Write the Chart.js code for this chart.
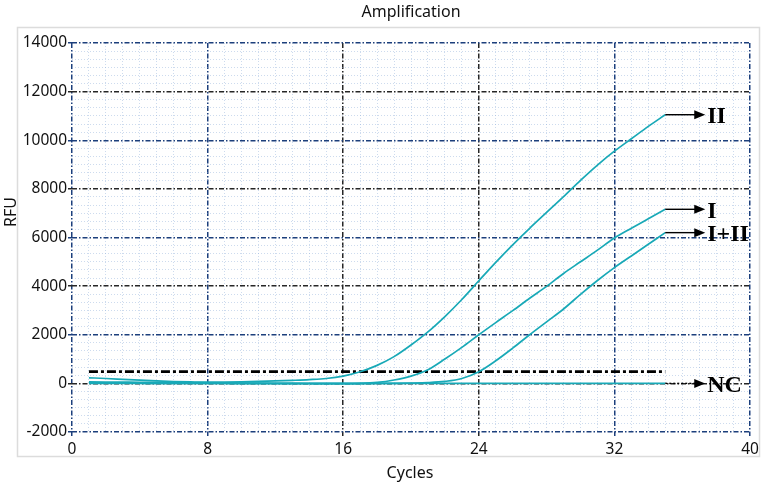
<!DOCTYPE html>
<html>
<head>
<meta charset="utf-8">
<script src="https://cdn.jsdelivr.net/npm/chart.js@4.4.1/dist/chart.umd.min.js"></script>
<style>
  html, body { margin:0; padding:0; background:#fff; }
  #wrap { width:765px; height:486px; position:relative; }
</style>
</head>
<body>
<div id="wrap"><canvas id="amp"></canvas></div>
<script>
// amplification plot - RFU per cycle for each sample
// values, threshold is the black dash-dot line

const cycles = [1,2,3,4,5,6,7,8,9,10,11,12,13,14,15,16,17,18,19,20,21,22,23,24,25,26,27,28,29,30,31,32,33,34,35];
const rfuII  = [230,200,165,130,100,75,60,50,55,65,80,100,125,155,200,300,480,740,1100,1580,2120,2750,3450,4220,4980,5700,6380,7030,7680,8350,8980,9550,10060,10570,11050];
const rfuI   = [60,55,50,45,40,35,30,25,20,15,10,5,0,-5,-10,-10,0,40,140,300,560,1000,1480,2000,2500,2990,3500,3990,4520,5000,5480,5980,6380,6770,7160];
const rfuI_II= [20,15,10,5,0,0,0,-5,-5,-10,-10,-10,-10,-10,-10,-10,-10,-5,0,10,30,80,200,480,930,1450,2000,2530,3060,3660,4230,4760,5240,5720,6200];
const rfuNC  = [0,0,0,0,0,0,0,0,0,0,0,0,0,0,0,0,0,0,0,0,0,0,0,0,0,0,0,0,0,0,0,0,0,0,0];
const thresholdCycles = [1, 35];
const thresholdRFU = [480, 480];

const xTickLabels = [0, 8, 16, 24, 32, 40];
const yTickLabels = [-2000, 0, 2000, 4000, 6000, 8000, 10000, 12000, 14000];

const teal = '#18a9b7';
const navy = '#1c3f7c';
const black = '#262626';
const faint = 'rgba(140,172,215,0.55)';
const X_SUB = 8;   // faint line every cycle
const Y_SUB = 6;

function pts(xs, ys){ return xs.map((c, i) => ({x: c, y: ys[i]})); }

function subTicks(majors, sub){
    let t = [];
    for (let i = 0; i < majors.length - 1; i++) {
        for (let k = 0; k < sub; k++) {
            t.push({value: majors[i] + (majors[i+1] - majors[i]) * k / sub});
        }
    }
    t.push({value: majors[majors.length - 1]});
    return t;
}

function xMajorColor(i){
    // 16 and 24 are black, the rest navy
    let v = xTickLabels[i];
    return (v === 16 || v === 24) ? black : navy;
}

function curve(label, ys){
    return {
        label: label,
        tag: true,
        data: pts(cycles, ys),
        borderColor: teal,
        borderWidth: 1.7,
        pointRadius: 0,
        cubicInterpolationMode: 'monotone',
        fill: false
    };
}

const arrows = {
    id: 'arrows',
    afterDatasetsDraw(chart){
        const ctx = chart.ctx;
        const x = chart.scales.x, y = chart.scales.y;
        chart.data.datasets.forEach(ds => {
            if (!ds.tag) return;
            const last = ds.data[ds.data.length - 1];
            const x0 = x.getPixelForValue(last.x);
            const y0 = y.getPixelForValue(last.y);
            const x1 = x0 + 40;
            ctx.save();
            ctx.strokeStyle = '#000';
            ctx.fillStyle = '#000';
            ctx.lineWidth = 1.4;
            if (ds.label === 'NC') ctx.setLineDash([2, 2]);
            ctx.beginPath();
            ctx.moveTo(x0, y0);
            ctx.lineTo(x1 - 10, y0);
            ctx.stroke();
            ctx.setLineDash([]);
            ctx.beginPath();
            ctx.moveTo(x1, y0);
            ctx.lineTo(x1 - 11, y0 - 4.5);
            ctx.lineTo(x1 - 11, y0 + 4.5);
            ctx.closePath();
            ctx.fill();
            ctx.font = 'bold 24px "Liberation Serif"';
            ctx.textAlign = 'left';
            ctx.textBaseline = 'middle';
            ctx.fillText(ds.label, x1 + 2, y0 + 2);
            ctx.restore();
        });
    }
};

const texts = {
    id: 'texts',
    beforeDraw(chart){
        const ctx = chart.ctx;
        ctx.save();
        ctx.strokeStyle = '#dcdcdc';
        ctx.lineWidth = 1.5;
        ctx.strokeRect(17.5, 27.5, 742, 429);
        ctx.restore();
    },
    afterDraw(chart){
        const ctx = chart.ctx;
        const a = chart.chartArea;
        ctx.save();
        ctx.fillStyle = '#111';
        ctx.font = '16px "Noto Sans"';
        ctx.textAlign = 'center';
        ctx.textBaseline = 'middle';
        ctx.fillText('Amplification', (a.left + a.right) / 2, 12);
        ctx.fillText('Cycles', (a.left + a.right) / 2 - 1, 473);
        ctx.translate(11, 212);
        ctx.rotate(-Math.PI / 2);
        ctx.fillText('RFU', 0, 0);
        ctx.restore();
    }
};

let amp = new Chart('amp', {
    type: 'line',
    data: {
        datasets: [
            curve('II', rfuII),
            curve('I', rfuI),
            curve('I+II', rfuI_II),
            curve('NC', rfuNC),
            {
                label: 'threshold',
                data: pts(thresholdCycles, thresholdRFU),
                borderColor: '#000',
                borderWidth: 2.8,
                borderDash: [9, 3, 3, 3],
                pointRadius: 0,
                fill: false
            }
        ]
    },
    plugins: [arrows, texts],
    options: {
        responsive: true,
        maintainAspectRatio: false,
        animation: false,
        layout: { padding: { top: 43, right: 15, left: 0, bottom: 0 } },
        scales: {
            x: {
                type: 'linear',
                min: 0,
                max: 40,
                afterBuildTicks: s => { s.ticks = subTicks(xTickLabels, X_SUB); },
                afterFit: s => { s.height = 54; },
                ticks: {
                    autoSkip: false,
                    maxRotation: 0,
                    padding: 4,
                    color: '#111',
                    font: { family: 'Noto Sans', size: 15.5 },
                    callback: (v, i) => i % X_SUB === 0 ? String(xTickLabels[i / X_SUB]) : ''
                },
                grid: {
                    color: c => c.index % X_SUB === 0 ? xMajorColor(c.index / X_SUB) : faint,
                    lineWidth: c => c.index % X_SUB === 0 ? 1.5 : 0.8,
                    tickColor: c => c.index % X_SUB === 0 ? xMajorColor(c.index / X_SUB) : 'transparent',
                    tickLength: 4
                },
                border: {
                    display: false,
                    dash: c => c.index % X_SUB === 0 ? [5, 2, 1.5, 2] : [1, 2]
                }
            },
            y: {
                min: -2000,
                max: 14000,
                afterBuildTicks: s => { s.ticks = subTicks(yTickLabels, Y_SUB); },
                afterFit: s => { s.width = 72; },
                ticks: {
                    autoSkip: false,
                    padding: 1,
                    color: '#111',
                    font: { family: 'Noto Sans', size: 15.5 },
                    callback: (v, i) => i % Y_SUB === 0 ? String(yTickLabels[i / Y_SUB]) : ''
                },
                grid: {
                    color: c => c.index % Y_SUB === 0 ? ((c.index / Y_SUB) % 2 === 0 ? navy : black) : faint,
                    lineWidth: c => c.index % Y_SUB === 0 ? 1.5 : 0.8,
                    tickColor: c => c.index % Y_SUB === 0 ? ((c.index / Y_SUB) % 2 === 0 ? navy : black) : 'transparent',
                    tickLength: 4
                },
                border: {
                    display: false,
                    dash: c => c.index % Y_SUB === 0 ? [5, 2, 1.5, 2] : [1, 2]
                }
            }
        },
        plugins: {
            legend: { display: false },
            title: { display: false },
            tooltip: { enabled: false }
        }
    }
});
</script>
</body>
</html>
